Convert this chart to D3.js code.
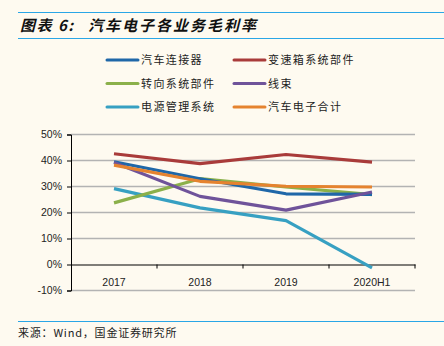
<!DOCTYPE html>
<html>
<head>
<meta charset="utf-8">
<script src="https://cdn.jsdelivr.net/npm/d3@7"></script>
<style>
  body { margin: 0; background: #fefaf0; }
  svg { display: block; }
</style>
</head>
<body>
<svg width="444" height="346"></svg>
<script>
// Gross margin by business line, %
const years = ["2017", "2018", "2019", "2020H1"];
const seriesNames = ["汽车连接器", "变速箱系统部件", "转向系统部件", "线束", "电源管理系统", "汽车电子合计"];
const connector = [39.5, 33, 27.2, 27];
const gearbox = [42.6, 38.8, 42.3, 39.4];
const steering = [23.7, 33, 29.8, 26.9];
const harness = [39.2, 26.2, 20.9, 27.9];
const power = [29.2, 21.8, 16.9, -1.3];
const total = [38.2, 32, 30.1, 29.8];
const yTicks = [-10, 0, 10, 20, 30, 40, 50];
const colors = ["#1f67a8", "#a93b3a", "#8bb04a", "#6f539a", "#37a0c2", "#e5832f"];

const series = [connector, gearbox, steering, harness, power, total].map((values, i) => ({
  name: seriesNames[i],
  color: colors[i],
  values: values
}));

const svg = d3.select("svg");
const font = "'Liberation Sans', Arial, sans-serif";
const cjk = "'Noto Sans CJK SC', sans-serif";

// Header rules and title
svg.append("line").attr("x1", 18).attr("x2", 444).attr("y1", 12.5).attr("y2", 12.5)
  .attr("stroke", "#2aa6e6").attr("stroke-width", 1.2);
svg.append("line").attr("x1", 18).attr("x2", 444).attr("y1", 38.5).attr("y2", 38.5)
  .attr("stroke", "#2aa6e6").attr("stroke-width", 1.2);
const title = svg.append("g")
  .style("font-family", cjk).style("font-size", "15px")
  .style("font-style", "italic").style("font-weight", "bold").style("fill", "#111");
title.append("text").attr("x", 20).attr("y", 31).style("letter-spacing", "1.5px").text("图表 6:");
title.append("text").attr("x", 88).attr("y", 31).style("letter-spacing", "2px").text("汽车电子各业务毛利率");

// Legend, two columns
const legend = svg.append("g");
series.forEach((s, i) => {
  const col = i % 2, row = Math.floor(i / 2);
  const x0 = col === 0 ? 107 : 234;
  const yy = 60 + row * 23.5;
  legend.append("line").attr("x1", x0).attr("x2", x0 + 31).attr("y1", yy).attr("y2", yy)
    .attr("stroke", s.color).attr("stroke-width", 3).attr("stroke-linecap", "round");
  legend.append("text").attr("x", x0 + 34).attr("y", yy + 4)
    .style("font-family", cjk).style("font-size", "11px").style("letter-spacing", "1.4px")
    .style("fill", "#222")
    .text(s.name);
});

// Plot area
const plotLeft = 71, plotRight = 415, plotTop = 134.5, plotBottom = 290.5;
const x = d3.scaleBand().domain(years).range([plotLeft, plotRight]);
const y = d3.scaleLinear().domain([-10, 50]).range([plotBottom, plotTop]);

// Horizontal gridlines
svg.append("g").selectAll("line").data(yTicks.filter(d => d !== 0)).enter().append("line")
  .attr("x1", plotLeft).attr("x2", plotRight)
  .attr("y1", d => y(d)).attr("y2", d => y(d))
  .attr("stroke", "#b3b3b3").attr("stroke-width", 1.6);

// Y axis
const yAxis = svg.append("g").attr("transform", `translate(${plotLeft},0)`)
  .call(d3.axisLeft(y).tickValues(yTicks).tickFormat(d => d + "%").tickSize(4).tickPadding(5));
yAxis.select(".domain").attr("stroke", "#000");
yAxis.selectAll(".tick line").attr("stroke", "#000");
yAxis.selectAll("text").style("font-family", font).style("font-size", "10.5px").style("fill", "#222");

// Zero line with category ticks and labels
const xAxis = svg.append("g").attr("transform", `translate(0,${y(0)})`)
  .call(d3.axisBottom(x).tickSize(0).tickPadding(14));
xAxis.select(".domain").attr("stroke", "#000").attr("stroke-width", 1.2);
xAxis.selectAll("text").style("font-family", font).style("font-size", "10.5px").style("fill", "#222");
svg.append("g").selectAll("line").data(years.slice(1).concat([null])).enter().append("line")
  .attr("x1", d => d ? x(d) : plotRight).attr("x2", d => d ? x(d) : plotRight)
  .attr("y1", y(0)).attr("y2", y(0) + 4)
  .attr("stroke", "#000");

// Series lines
const line = d3.line()
  .x((d, i) => x(years[i]) + x.bandwidth() / 2)
  .y(d => y(d));
const drawOrder = [4, 2, 0, 3, 1, 5];
svg.append("g").selectAll("path").data(drawOrder.map(i => series[i])).enter().append("path")
  .attr("d", d => line(d.values))
  .attr("fill", "none")
  .attr("stroke", d => d.color)
  .attr("stroke-width", 3.2)
  .attr("stroke-linejoin", "round");

// Footer
svg.append("line").attr("x1", 18).attr("x2", 444).attr("y1", 321.5).attr("y2", 321.5)
  .attr("stroke", "#2aa6e6").attr("stroke-width", 1.2);
svg.append("text").attr("x", 18).attr("y", 337)
  .style("font-family", cjk).style("font-size", "11px").style("letter-spacing", "0.8px")
  .style("fill", "#222")
  .text("来源：Wind，国金证券研究所");
</script>
</body>
</html>
